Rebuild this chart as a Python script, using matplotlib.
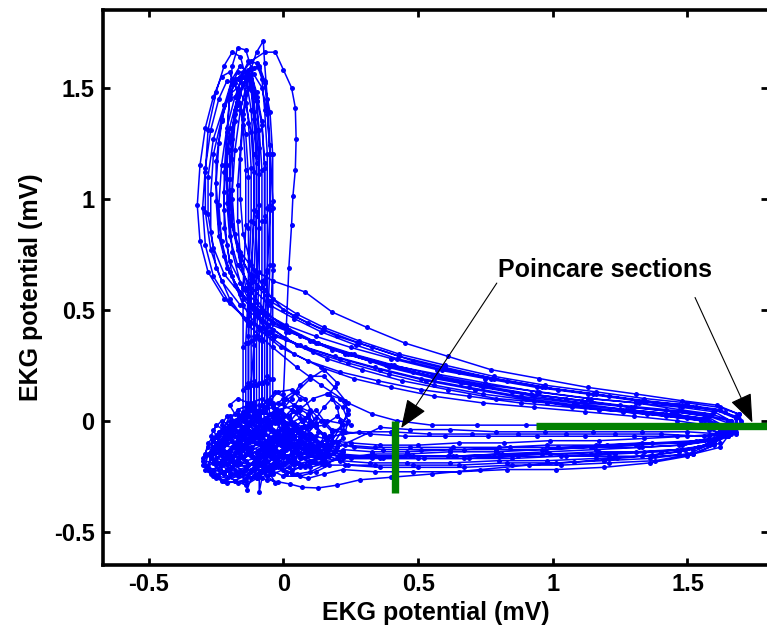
import numpy as np
import matplotlib
matplotlib.use("Agg")
import matplotlib.pyplot as plt

plt.rcParams["font.family"] = ["Liberation Sans", "DejaVu Sans"]
plt.rcParams["font.weight"] = "bold"
plt.rcParams["axes.unicode_minus"] = False

# delay-embedded EKG trajectory, one list of (v(t), v(t+tau)) samples per beat
beat01 = [
    (0.21, -0.16), (0.14, -0.15), (0.08, -0.13), (0.03, -0.1), (-0.02, -0.06), (-0.06, -0.01), (-0.1, 0.03),
    (-0.14, 0.01), (-0.18, -0.04), (-0.21, -0.1), (-0.23, -0.16), (-0.19, -0.21), (-0.13, -0.2), (-0.08, -0.16),
    (-0.05, -0.1), (-0.07, -0.04), (-0.1, 0.0), (-0.12, 0.06),
    (-0.12, 0.16), (-0.11, 0.34), (-0.1, 0.6), (-0.09, 0.87), (-0.09, 1.11), (-0.1, 1.31), (-0.11, 1.46),
    (-0.13, 1.56), (-0.16, 1.6), (-0.19, 1.54), (-0.22, 1.42), (-0.24, 1.25), (-0.25, 1.07), (-0.24, 0.89),
    (-0.22, 0.74), (-0.18, 0.61), (-0.12, 0.52),
    (-0.04, 0.44), (0.06, 0.38), (0.18, 0.32), (0.32, 0.27), (0.48, 0.22), (0.66, 0.17), (0.85, 0.13),
    (1.05, 0.1), (1.25, 0.07), (1.42, 0.05), (1.56, 0.03), (1.65, 0.0), (1.67, -0.05), (1.6, -0.08),
    (1.47, -0.1), (1.31, -0.11), (1.14, -0.12), (0.96, -0.13), (0.79, -0.14), (0.62, -0.14), (0.46, -0.15),
    (0.33, -0.15),
]
beat02 = [
    (0.22, -0.14), (0.15, -0.11), (0.1, -0.06), (0.07, 0.0), (0.03, 0.05), (-0.02, 0.08), (-0.07, 0.06),
    (-0.11, 0.02), (-0.15, -0.03), (-0.19, -0.07), (-0.24, -0.12), (-0.27, -0.17), (-0.24, -0.22),
    (-0.18, -0.24), (-0.12, -0.22), (-0.07, -0.18), (-0.03, -0.12), (0.0, -0.06), (-0.02, -0.01),
    (-0.05, 0.03), (-0.06, 0.09),
    (-0.06, 0.2), (-0.06, 0.42), (-0.05, 0.7), (-0.05, 0.97), (-0.05, 1.2), (-0.06, 1.38), (-0.08, 1.5),
    (-0.11, 1.56), (-0.14, 1.54), (-0.17, 1.46), (-0.2, 1.32), (-0.21, 1.15), (-0.21, 0.98), (-0.2, 0.83),
    (-0.17, 0.7), (-0.12, 0.6), (-0.05, 0.52),
    (0.04, 0.46), (0.14, 0.4), (0.27, 0.34), (0.42, 0.28), (0.59, 0.23), (0.77, 0.19), (0.96, 0.15),
    (1.15, 0.12), (1.33, 0.09), (1.49, 0.07), (1.6, 0.05), (1.68, 0.02), (1.69, -0.03), (1.62, -0.06),
    (1.5, -0.07), (1.34, -0.08), (1.17, -0.09), (0.99, -0.09), (0.82, -0.1), (0.65, -0.1), (0.5, -0.11),
    (0.36, -0.11), (0.25, -0.1),
]
beat03 = [
    (0.16, -0.08), (0.12, -0.03), (0.09, 0.03), (0.04, 0.07), (-0.01, 0.05), (-0.04, 0.0), (-0.08, -0.05),
    (-0.12, -0.09), (-0.17, -0.12), (-0.22, -0.14), (-0.26, -0.19), (-0.3, -0.18), (-0.27, -0.14),
    (-0.22, -0.09), (-0.18, -0.04), (-0.15, 0.0), (-0.13, 0.06),
    (-0.13, 0.17), (-0.13, 0.38), (-0.12, 0.66), (-0.11, 0.95), (-0.11, 1.2), (-0.12, 1.4), (-0.14, 1.55),
    (-0.16, 1.64), (-0.19, 1.66), (-0.22, 1.6), (-0.25, 1.48), (-0.28, 1.31), (-0.29, 1.12), (-0.29, 0.94),
    (-0.27, 0.77), (-0.23, 0.63), (-0.16, 0.52), (-0.08, 0.45),
    (0.02, 0.4), (0.13, 0.35), (0.26, 0.3), (0.41, 0.25), (0.58, 0.2), (0.76, 0.16), (0.95, 0.13),
    (1.14, 0.1), (1.32, 0.08), (1.48, 0.06), (1.6, 0.04), (1.66, 0.0), (1.64, -0.07),
    (1.54, -0.12), (1.4, -0.14), (1.23, -0.15), (1.05, -0.16), (0.87, -0.16), (0.69, -0.17), (0.52, -0.17),
    (0.37, -0.17), (0.25, -0.17),
]
beat04 = [
    (0.13, -0.16), (0.06, -0.17), (0.0, -0.15), (-0.05, -0.12), (-0.1, -0.1), (-0.15, -0.11), (-0.2, -0.14),
    (-0.23, -0.19), (-0.2, -0.24), (-0.14, -0.26), (-0.135, -0.31), (-0.12, -0.26), (-0.08, -0.22),
    (-0.04, -0.17), (-0.02, -0.1), (-0.04, -0.04), (-0.07, 0.01), (-0.08, 0.07),
    (-0.08, 0.17), (-0.08, 0.36), (-0.07, 0.62), (-0.07, 0.9), (-0.07, 1.14), (-0.08, 1.33), (-0.1, 1.46),
    (-0.12, 1.54), (-0.15, 1.52), (-0.17, 1.42), (-0.19, 1.27), (-0.2, 1.09), (-0.2, 0.92), (-0.19, 0.76),
    (-0.16, 0.62), (-0.11, 0.5), (-0.04, 0.41),
    (0.05, 0.34), (0.16, 0.28), (0.29, 0.23), (0.44, 0.18), (0.61, 0.14), (0.79, 0.1), (0.98, 0.08),
    (1.17, 0.05), (1.35, 0.03), (1.5, 0.01), (1.6, -0.01), (1.64, -0.05), (1.58, -0.07),
    (1.46, -0.07), (1.3, -0.07), (1.12, -0.07), (0.94, -0.07), (0.76, -0.07), (0.6, -0.07), (0.45, -0.07),
    (0.32, -0.06), (0.22, -0.05),
]
beat05 = [
    (0.24, 0.03), (0.23, 0.09), (0.19, 0.15), (0.15, 0.2), (0.1, 0.2), (0.06, 0.16), (0.03, 0.1),
    (-0.01, 0.04), (-0.05, -0.02), (-0.09, -0.07), (-0.14, -0.1), (-0.18, -0.14), (-0.16, -0.19),
    (-0.1, -0.2), (-0.05, -0.16), (-0.01, -0.1), (0.01, -0.04), (-0.02, 0.02), (-0.04, 0.08),
    (-0.04, 0.19), (-0.04, 0.41), (-0.04, 0.7), (-0.04, 0.99), (-0.05, 1.24), (-0.06, 1.45), (-0.07, 1.61),
    (-0.075, 1.71), (-0.1, 1.66), (-0.13, 1.55), (-0.16, 1.4), (-0.18, 1.22), (-0.19, 1.04), (-0.19, 0.88),
    (-0.16, 0.76), (-0.11, 0.68), (-0.04, 0.63),
    (0.08, 0.58), (0.18, 0.49), (0.31, 0.42), (0.45, 0.35), (0.61, 0.29), (0.77, 0.23), (0.95, 0.19),
    (1.13, 0.15), (1.31, 0.12), (1.48, 0.09), (1.61, 0.07), (1.69, 0.03), (1.7, -0.03), (1.63, -0.06),
    (1.5, -0.05), (1.33, -0.05), (1.15, -0.05), (0.97, -0.05), (0.79, -0.05), (0.62, -0.04), (0.47, -0.04),
    (0.36, -0.03),
]
beat06 = [
    (0.25, -0.02), (0.16, 0.0), (0.09, -0.02), (0.03, -0.05), (-0.03, -0.09), (-0.09, -0.13), (-0.15, -0.17),
    (-0.21, -0.2), (-0.26, -0.22), (-0.29, -0.2), (-0.28, -0.15), (-0.25, -0.1), (-0.21, -0.06),
    (-0.17, -0.02), (-0.15, 0.04),
    (-0.15, 0.14), (-0.15, 0.33), (-0.15, 0.6), (-0.14, 0.88), (-0.14, 1.13), (-0.15, 1.33), (-0.17, 1.48),
    (-0.2, 1.57), (-0.23, 1.55), (-0.26, 1.46), (-0.29, 1.32), (-0.31, 1.15), (-0.32, 0.97), (-0.31, 0.81),
    (-0.28, 0.67), (-0.22, 0.55), (-0.14, 0.46),
    (-0.05, 0.4), (0.06, 0.34), (0.19, 0.29), (0.34, 0.24), (0.51, 0.19), (0.69, 0.15), (0.88, 0.11),
    (1.08, 0.08), (1.27, 0.05), (1.44, 0.03), (1.57, 0.01), (1.63, -0.03), (1.62, -0.1),
    (1.52, -0.15), (1.38, -0.18), (1.21, -0.19), (1.03, -0.2), (0.85, -0.2), (0.67, -0.21), (0.5, -0.21),
    (0.36, -0.21), (0.24, -0.2),
]
beat07 = [
    (0.14, -0.19), (0.07, -0.2), (0.01, -0.19), (-0.05, -0.2), (-0.09, -0.25), (-0.09, -0.32), (-0.08, -0.26),
    (-0.04, -0.21), (0.0, -0.15), (0.02, -0.08), (0.0, -0.02), (-0.04, 0.03), (-0.09, 0.03), (-0.13, -0.01),
    (-0.16, -0.06), (-0.14, -0.1), (-0.1, -0.06), (-0.09, 0.0), (-0.09, 0.07),
    (-0.09, 0.17), (-0.09, 0.37), (-0.08, 0.63), (-0.08, 0.9), (-0.08, 1.13), (-0.09, 1.31), (-0.1, 1.44),
    (-0.12, 1.51), (-0.14, 1.48), (-0.15, 1.38), (-0.16, 1.23), (-0.17, 1.06), (-0.17, 0.9), (-0.16, 0.74),
    (-0.14, 0.6), (-0.1, 0.47), (-0.04, 0.37),
    (0.04, 0.3), (0.14, 0.24), (0.26, 0.19), (0.4, 0.15), (0.56, 0.11), (0.74, 0.08), (0.93, 0.06),
    (1.12, 0.04), (1.3, 0.02), (1.46, 0.0), (1.57, -0.02), (1.62, -0.06), (1.58, -0.11),
    (1.47, -0.14), (1.33, -0.16), (1.16, -0.17), (0.98, -0.18), (0.8, -0.18), (0.62, -0.19), (0.46, -0.19),
    (0.32, -0.19), (0.21, -0.18),
]
beat08 = [
    (0.15, -0.15), (0.1, -0.1), (0.06, -0.05), (0.01, -0.03), (-0.04, -0.05), (-0.09, -0.09), (-0.13, -0.14),
    (-0.17, -0.19), (-0.22, -0.23), (-0.25, -0.26), (-0.21, -0.28), (-0.15, -0.27), (-0.09, -0.24),
    (-0.04, -0.2), (0.0, -0.13), (0.02, -0.06), (0.0, 0.02),
    (0.0, 0.12), (0.01, 0.4), (0.02, 0.69), (0.03, 0.88), (0.035, 1.01), (0.044, 1.13), (0.047, 1.27),
    (0.044, 1.41), (0.03, 1.5), (0.0, 1.58), (-0.03, 1.66), (-0.07, 1.66), (-0.12, 1.62), (-0.17, 1.54),
    (-0.22, 1.42), (-0.26, 1.27), (-0.28, 1.1), (-0.28, 0.93), (-0.26, 0.78), (-0.22, 0.66), (-0.16, 0.57),
    (-0.08, 0.49),
    (0.01, 0.43), (0.12, 0.38), (0.25, 0.33), (0.4, 0.28), (0.57, 0.23), (0.75, 0.19), (0.94, 0.15),
    (1.13, 0.12), (1.31, 0.09), (1.47, 0.07), (1.6, 0.05), (1.68, 0.01), (1.67, -0.05), (1.6, -0.09),
    (1.48, -0.11), (1.33, -0.12), (1.16, -0.13), (0.98, -0.14), (0.8, -0.15), (0.63, -0.16), (0.47, -0.16),
    (0.33, -0.17), (0.22, -0.17),
]
beat09 = [
    (0.12, -0.16), (0.05, -0.12), (0.0, -0.07), (-0.05, -0.03), (-0.11, -0.02), (-0.17, -0.05), (-0.22, -0.08),
    (-0.26, -0.12), (-0.27, -0.17), (-0.23, -0.2), (-0.17, -0.18), (-0.12, -0.13), (-0.08, -0.08),
    (-0.06, -0.02), (-0.09, 0.02), (-0.11, 0.08),
    (-0.11, 0.18), (-0.11, 0.38), (-0.1, 0.65), (-0.1, 0.92), (-0.1, 1.16), (-0.11, 1.36), (-0.12, 1.49),
    (-0.14, 1.57), (-0.17, 1.57), (-0.2, 1.49), (-0.23, 1.35), (-0.25, 1.17), (-0.25, 0.99), (-0.24, 0.83),
    (-0.21, 0.69), (-0.16, 0.58), (-0.09, 0.49),
    (0.0, 0.42), (0.1, 0.36), (0.23, 0.3), (0.38, 0.25), (0.55, 0.2), (0.73, 0.16), (0.92, 0.12),
    (1.11, 0.09), (1.29, 0.06), (1.45, 0.04), (1.57, 0.02), (1.63, -0.02), (1.6, -0.09),
    (1.52, -0.13), (1.37, -0.155), (1.24, -0.17), (1.08, -0.186), (0.91, -0.2), (0.73, -0.22), (0.55, -0.24),
    (0.4, -0.255), (0.285, -0.266), (0.2, -0.29), (0.128, -0.303), (0.07, -0.3), (0.023, -0.285),
    (-0.02, -0.275), (-0.06, -0.266),
]
beat10 = [
    (-0.1, -0.24), (-0.14, -0.21), (-0.19, -0.17), (-0.24, -0.14), (-0.29, -0.16), (-0.3, -0.2), (-0.27, -0.24),
    (-0.21, -0.26), (-0.15, -0.23), (-0.1, -0.18), (-0.06, -0.12), (-0.03, -0.06), (-0.01, 0.0), (0.03, 0.05),
    (0.06, 0.1), (0.03, 0.14), (-0.02, 0.13), (-0.05, 0.09), (-0.07, 0.06),
    (-0.07, 0.18), (-0.07, 0.4), (-0.06, 0.68), (-0.06, 0.96), (-0.06, 1.2), (-0.07, 1.4), (-0.08, 1.54),
    (-0.1, 1.61), (-0.13, 1.62), (-0.16, 1.54), (-0.18, 1.4), (-0.2, 1.22), (-0.2, 1.04), (-0.19, 0.88),
    (-0.16, 0.74), (-0.11, 0.63), (-0.04, 0.55),
    (0.05, 0.48), (0.15, 0.42), (0.28, 0.36), (0.43, 0.3), (0.6, 0.25), (0.78, 0.2), (0.97, 0.16),
    (1.16, 0.13), (1.34, 0.1), (1.5, 0.08), (1.62, 0.06), (1.69, 0.03), (1.71, -0.02), (1.65, -0.07),
    (1.53, -0.09), (1.37, -0.1), (1.2, -0.11), (1.02, -0.12), (0.84, -0.12), (0.67, -0.13), (0.51, -0.13),
    (0.37, -0.13), (0.26, -0.12),
]
beat11 = [
    (0.18, -0.1), (0.13, -0.05), (0.1, 0.0), (0.05, 0.04), (0.0, 0.02), (-0.05, -0.03), (-0.1, -0.07),
    (-0.15, -0.08), (-0.2, -0.06), (-0.23, -0.02), (-0.21, 0.02), (-0.17, 0.03), (-0.13, 0.02), (-0.12, 0.07),
    (-0.12, 0.16), (-0.12, 0.36), (-0.12, 0.62), (-0.11, 0.89), (-0.11, 1.12), (-0.12, 1.3), (-0.14, 1.43),
    (-0.17, 1.5), (-0.2, 1.47), (-0.23, 1.36), (-0.26, 1.2), (-0.27, 1.02), (-0.27, 0.85), (-0.25, 0.69),
    (-0.2, 0.55), (-0.13, 0.43), (-0.04, 0.33),
    (0.05, 0.24), (0.14, 0.16), (0.24, 0.08), (0.33, 0.03), (0.42, 0.0), (0.55, -0.02), (0.72, -0.02),
    (0.9, -0.02), (1.09, -0.02), (1.28, -0.02), (1.45, -0.03), (1.58, -0.04), (1.65, -0.07), (1.62, -0.12),
    (1.52, -0.15), (1.38, -0.16), (1.21, -0.16), (1.03, -0.16), (0.85, -0.17), (0.67, -0.17), (0.5, -0.17),
    (0.36, -0.17), (0.24, -0.16),
]
beat12 = [
    (0.14, -0.14), (0.08, -0.1), (0.02, -0.08), (-0.04, -0.1), (-0.1, -0.14), (-0.16, -0.16), (-0.22, -0.18),
    (-0.26, -0.22), (-0.23, -0.27), (-0.17, -0.28), (-0.11, -0.25), (-0.05, -0.2), (0.0, -0.14), (0.03, -0.07),
    (0.01, -0.01), (-0.03, 0.03), (-0.05, 0.08),
    (-0.05, 0.19), (-0.05, 0.4), (-0.04, 0.68), (-0.04, 0.96), (-0.04, 1.2), (-0.05, 1.39), (-0.07, 1.52),
    (-0.09, 1.59), (-0.12, 1.59), (-0.15, 1.51), (-0.18, 1.38), (-0.21, 1.21), (-0.22, 1.03), (-0.22, 0.87),
    (-0.2, 0.72), (-0.15, 0.6), (-0.08, 0.5),
    (0.01, 0.42), (0.11, 0.36), (0.24, 0.3), (0.39, 0.24), (0.56, 0.19), (0.74, 0.15), (0.93, 0.11),
    (1.12, 0.08), (1.3, 0.06), (1.46, 0.04), (1.58, 0.02), (1.65, -0.01), (1.65, -0.07), (1.58, -0.11),
    (1.46, -0.13), (1.31, -0.14), (1.14, -0.15), (0.96, -0.15), (0.78, -0.16), (0.61, -0.16), (0.45, -0.16),
    (0.32, -0.16), (0.21, -0.15),
]
beat13 = [
    (0.22, -0.08), (0.21, 0.0), (0.2, 0.06), (0.17, 0.12), (0.2, 0.17), (0.15, 0.23), (0.1, 0.19), (0.05, 0.13),
    (0.0, 0.08), (-0.05, 0.03), (-0.1, -0.03), (-0.15, -0.08), (-0.2, -0.13), (-0.25, -0.17), (-0.28, -0.21),
    (-0.25, -0.25), (-0.2, -0.22), (-0.16, -0.15), (-0.14, -0.08), (-0.14, 0.0), (-0.14, 0.06),
    (-0.14, 0.15), (-0.14, 0.35), (-0.13, 0.6), (-0.13, 0.87), (-0.13, 1.1), (-0.14, 1.29), (-0.16, 1.43),
    (-0.18, 1.52), (-0.21, 1.53), (-0.24, 1.45), (-0.27, 1.31), (-0.29, 1.14), (-0.3, 0.96), (-0.29, 0.79),
    (-0.26, 0.65), (-0.2, 0.53), (-0.12, 0.44),
    (-0.03, 0.38), (0.08, 0.33), (0.21, 0.28), (0.36, 0.23), (0.53, 0.18), (0.71, 0.14), (0.9, 0.1),
    (1.09, 0.07), (1.28, 0.05), (1.44, 0.03), (1.56, 0.01), (1.62, -0.03), (1.6, -0.1),
    (1.5, -0.15), (1.36, -0.17), (1.19, -0.18), (1.01, -0.19), (0.83, -0.19), (0.65, -0.2), (0.48, -0.2),
    (0.34, -0.2), (0.23, -0.2),
]
beat14 = [
    (0.15, -0.18), (0.09, -0.16), (0.04, -0.12), (0.0, -0.06), (-0.03, 0.0), (-0.07, 0.04), (-0.12, 0.05),
    (-0.16, 0.02), (-0.2, -0.03), (-0.23, -0.09), (-0.26, -0.14), (-0.22, -0.17), (-0.16, -0.14),
    (-0.12, -0.09), (-0.1, -0.03), (-0.1, 0.04),
    (-0.1, 0.16), (-0.1, 0.38), (-0.09, 0.67), (-0.09, 0.97), (-0.09, 1.23), (-0.1, 1.44), (-0.12, 1.59),
    (-0.14, 1.67), (-0.17, 1.68), (-0.19, 1.6), (-0.2, 1.46), (-0.21, 1.28), (-0.21, 1.09), (-0.2, 0.92),
    (-0.17, 0.77), (-0.12, 0.64), (-0.05, 0.54),
    (0.04, 0.47), (0.15, 0.41), (0.28, 0.35), (0.43, 0.29), (0.6, 0.24), (0.78, 0.19), (0.97, 0.15),
    (1.16, 0.12), (1.34, 0.09), (1.5, 0.07), (1.62, 0.05), (1.68, 0.01), (1.68, -0.05), (1.61, -0.08),
    (1.49, -0.1), (1.33, -0.1), (1.16, -0.11), (0.98, -0.11), (0.8, -0.12), (0.63, -0.12), (0.47, -0.12),
    (0.34, -0.12), (0.23, -0.11),
]
beat15 = [
    (0.17, -0.07), (0.22, -0.02), (0.24, 0.05), (0.21, 0.1), (0.16, 0.12), (0.11, 0.1), (0.06, 0.05),
    (0.02, -0.01), (-0.03, -0.06), (-0.08, -0.1), (-0.13, -0.12), (-0.18, -0.11), (-0.22, -0.07),
    (-0.2, -0.02), (-0.15, 0.01), (-0.1, 0.02), (-0.08, 0.07),
    (-0.08, 0.17), (-0.08, 0.37), (-0.07, 0.64), (-0.07, 0.92), (-0.07, 1.16), (-0.08, 1.35), (-0.1, 1.48),
    (-0.12, 1.56), (-0.15, 1.55), (-0.18, 1.46), (-0.21, 1.32), (-0.23, 1.15), (-0.24, 0.97), (-0.23, 0.81),
    (-0.2, 0.67), (-0.15, 0.55), (-0.08, 0.45),
    (0.01, 0.37), (0.11, 0.31), (0.24, 0.26), (0.39, 0.21), (0.56, 0.16), (0.74, 0.12), (0.93, 0.09),
    (1.12, 0.06), (1.3, 0.04), (1.46, 0.02), (1.58, 0.0), (1.64, -0.04), (1.6, -0.1),
    (1.49, -0.13), (1.34, -0.14), (1.17, -0.14), (0.99, -0.15), (0.81, -0.15), (0.64, -0.16), (0.48, -0.16),
    (0.34, -0.16), (0.22, -0.16), (0.12, -0.14), (0.04, -0.11), (-0.03, -0.08), (-0.09, -0.06),
]
beat16 = [
    (-0.26, -0.13), (-0.21, -0.1), (-0.16, -0.1), (-0.12, -0.07), (-0.09, -0.08), (-0.13, -0.05),
    (-0.12, 0.01), (-0.11, 0.06),
    (-0.11, 0.16), (-0.11, 0.37), (-0.11, 0.65), (-0.1, 0.94), (-0.1, 1.19), (-0.11, 1.39), (-0.12, 1.52),
    (-0.13, 1.58), (-0.15, 1.57), (-0.17, 1.49), (-0.18, 1.35), (-0.19, 1.18), (-0.19, 1.0), (-0.18, 0.84),
    (-0.16, 0.7), (-0.12, 0.58), (-0.06, 0.48),
    (0.02, 0.41), (0.12, 0.35), (0.25, 0.3), (0.4, 0.25), (0.57, 0.21), (0.75, 0.17), (0.94, 0.13),
    (1.13, 0.1), (1.31, 0.08), (1.47, 0.05), (1.59, 0.03), (1.66, 0.0), (1.66, -0.06), (1.59, -0.09),
    (1.47, -0.11), (1.32, -0.12), (1.15, -0.12), (0.97, -0.13), (0.79, -0.13), (0.62, -0.13), (0.46, -0.14),
    (0.33, -0.14), (0.22, -0.13),
]
beat17 = [
    (0.14, -0.1), (0.08, -0.06), (0.03, -0.02), (-0.02, 0.02), (-0.07, 0.0), (-0.11, -0.04), (-0.14, 0.0),
    (-0.13, 0.06),
    (-0.13, 0.15), (-0.13, 0.35), (-0.13, 0.62), (-0.12, 0.9), (-0.12, 1.14), (-0.13, 1.34), (-0.14, 1.47),
    (-0.16, 1.55), (-0.18, 1.54), (-0.2, 1.45), (-0.21, 1.3), (-0.22, 1.12), (-0.22, 0.95), (-0.21, 0.79),
    (-0.19, 0.65), (-0.15, 0.52), (-0.09, 0.41),
    (-0.01, 0.33), (0.09, 0.27), (0.21, 0.22), (0.35, 0.18), (0.51, 0.14), (0.69, 0.11), (0.88, 0.08),
    (1.07, 0.06), (1.26, 0.04), (1.42, 0.02), (1.55, 0.0), (1.62, -0.04), (1.6, -0.11),
    (1.5, -0.16), (1.36, -0.19), (1.19, -0.21), (1.01, -0.22), (0.83, -0.22), (0.65, -0.23), (0.48, -0.23),
    (0.34, -0.23), (0.22, -0.22),
]
beat18 = [
    (0.12, -0.19), (0.06, -0.15), (0.01, -0.1), (-0.03, -0.05), (-0.06, 0.0), (-0.06, 0.06),
    (-0.06, 0.17), (-0.06, 0.39), (-0.06, 0.67), (-0.05, 0.95), (-0.05, 1.2), (-0.06, 1.4), (-0.07, 1.53),
    (-0.09, 1.6), (-0.11, 1.59), (-0.13, 1.5), (-0.15, 1.36), (-0.16, 1.18), (-0.16, 1.0), (-0.15, 0.84),
    (-0.12, 0.7), (-0.07, 0.59), (0.0, 0.5),
    (0.09, 0.44), (0.2, 0.38), (0.33, 0.33), (0.48, 0.27), (0.65, 0.22), (0.83, 0.18), (1.02, 0.14),
    (1.21, 0.11), (1.38, 0.08), (1.53, 0.06), (1.64, 0.04), (1.7, 0.0), (1.68, -0.06),
    (1.56, -0.07), (1.4, -0.06), (1.23, -0.06), (1.05, -0.06), (0.87, -0.06), (0.7, -0.06), (0.54, -0.06),
    (0.4, -0.05), (0.28, -0.05), (0.18, -0.07),
]

# baseline wander between beats (P/T waves and noise around the isoelectric level)
wander01 = [
    (0.15, -0.18), (0.09, -0.2), (0.03, -0.22), (-0.02, -0.19), (-0.06, -0.14), (-0.1, -0.1), (-0.15, -0.08),
    (-0.19, -0.12), (-0.2, -0.18), (-0.16, -0.22), (-0.11, -0.19), (-0.08, -0.13), (-0.04, -0.08),
    (0.0, -0.04), (0.04, -0.01), (0.07, -0.05), (0.05, -0.1), (0.01, -0.13), (-0.03, -0.16), (-0.07, -0.2),
    (-0.04, -0.24), (0.02, -0.21), (0.08, -0.17), (0.13, -0.14), (0.17, -0.13),
]
wander02 = [
    (0.18, -0.09), (0.12, -0.07), (0.07, -0.03), (0.02, 0.01), (-0.03, 0.04), (-0.08, 0.0), (-0.11, -0.05),
    (-0.14, -0.11), (-0.18, -0.15), (-0.23, -0.18), (-0.27, -0.14), (-0.26, -0.08), (-0.22, -0.04),
    (-0.17, -0.07), (-0.13, -0.14), (-0.1, -0.2), (-0.05, -0.23), (0.0, -0.2), (0.03, -0.15), (0.01, -0.09),
    (-0.03, -0.06), (-0.06, -0.1), (-0.03, -0.14), (0.04, -0.12), (0.1, -0.1), (0.16, -0.09),
]
wander03 = [
    (0.16, -0.13), (0.1, -0.08), (0.06, -0.12), (0.0, -0.17), (-0.05, -0.22), (-0.1, -0.26), (-0.15, -0.24),
    (-0.18, -0.19), (-0.21, -0.14), (-0.24, -0.1), (-0.26, -0.04), (-0.23, 0.0), (-0.19, -0.03),
    (-0.15, -0.06), (-0.1, -0.04), (-0.06, 0.01), (-0.02, 0.05), (0.02, 0.02), (0.05, -0.03), (0.03, -0.08),
    (-0.01, -0.11), (-0.06, -0.12), (-0.1, -0.15), (-0.06, -0.18), (0.01, -0.16), (0.08, -0.14), (0.14, -0.1),
]
wander04 = [
    (0.18, -0.05), (0.14, 0.0), (0.1, 0.05), (0.08, 0.1), (0.04, 0.13), (0.0, 0.1), (-0.04, 0.06),
    (-0.09, 0.04), (-0.13, 0.07), (-0.17, 0.05), (-0.2, 0.0), (-0.24, -0.05), (-0.28, -0.1), (-0.29, -0.15),
    (-0.25, -0.19), (-0.2, -0.17), (-0.15, -0.13), (-0.11, -0.09), (-0.07, -0.06), (-0.02, -0.08),
    (0.02, -0.12), (0.06, -0.16), (0.1, -0.19), (0.14, -0.17),
]
wander05 = [
    (0.2, -0.12), (0.14, -0.1), (0.08, -0.08), (0.03, -0.04), (-0.01, 0.0), (-0.05, 0.0), (-0.08, -0.04),
    (-0.12, -0.06), (-0.16, -0.02), (-0.2, 0.02), (-0.22, -0.03), (-0.2, -0.08), (-0.17, -0.13),
    (-0.14, -0.18), (-0.1, -0.21), (-0.06, -0.25), (-0.03, -0.28), (-0.05, -0.24), (-0.01, -0.2),
    (0.04, -0.17), (0.08, -0.12), (0.06, -0.07), (0.1, -0.03), (0.15, -0.02), (0.2, 0.02),
]
wander06 = [
    (0.2, -0.17), (0.15, -0.2), (0.1, -0.23), (0.05, -0.24), (0.0, -0.22), (-0.04, -0.17), (-0.07, -0.11),
    (-0.11, -0.07), (-0.16, -0.05), (-0.21, -0.08), (-0.24, -0.13), (-0.22, -0.18), (-0.18, -0.22),
    (-0.14, -0.27), (-0.12, -0.22), (-0.09, -0.17), (-0.04, -0.13), (0.0, -0.08), (0.04, -0.03),
    (0.08, 0.01), (0.12, 0.05), (0.15, 0.0), (0.18, -0.04), (0.22, -0.04),
]
wander07 = [
    (0.17, -0.16), (0.12, -0.13), (0.06, -0.1), (0.01, -0.12), (-0.04, -0.15), (-0.09, -0.17), (-0.14, -0.15),
    (-0.18, -0.1), (-0.21, -0.05), (-0.25, -0.02), (-0.27, -0.07), (-0.26, -0.13), (-0.24, -0.19),
    (-0.22, -0.24), (-0.18, -0.27), (-0.13, -0.24), (-0.08, -0.19), (-0.05, -0.13), (-0.01, -0.07),
    (0.03, -0.05), (0.07, -0.09), (0.11, -0.14), (0.15, -0.17), (0.16, -0.15),
]
wander08 = [
    (0.16, -0.14), (0.11, -0.11), (0.07, -0.07), (0.04, -0.02), (0.0, 0.03), (-0.04, 0.07), (-0.08, 0.1),
    (-0.12, 0.08), (-0.15, 0.04), (-0.18, -0.01), (-0.21, -0.06), (-0.23, -0.12), (-0.2, -0.16),
    (-0.15, -0.17), (-0.1, -0.14), (-0.06, -0.09), (-0.02, -0.05), (0.01, -0.09), (0.0, -0.15),
    (-0.03, -0.2), (0.01, -0.24), (0.06, -0.21), (0.1, -0.18), (0.15, -0.16),
]
wander09 = [
    (-0.1, -0.26), (-0.14, -0.29), (-0.18, -0.27), (-0.22, -0.24), (-0.24, -0.19), (-0.21, -0.15),
    (-0.17, -0.1), (-0.13, -0.06), (-0.08, -0.03), (-0.03, -0.01), (0.02, 0.02), (0.06, 0.06), (0.1, 0.04),
    (0.12, -0.01), (0.09, -0.06), (0.05, -0.1), (0.0, -0.13), (-0.05, -0.16), (-0.09, -0.2), (-0.11, -0.25),
]
wander10 = [
    (0.2, -0.1), (0.15, -0.06), (0.11, -0.02), (0.06, 0.01), (0.01, -0.02), (-0.03, -0.07), (-0.08, -0.11),
    (-0.13, -0.14), (-0.17, -0.18), (-0.21, -0.22), (-0.25, -0.25), (-0.28, -0.22), (-0.27, -0.17),
    (-0.23, -0.13), (-0.19, -0.09), (-0.15, -0.04), (-0.11, 0.0), (-0.07, 0.04), (-0.03, 0.02), (0.0, -0.03),
    (0.04, -0.08), (0.09, -0.11), (0.14, -0.11), (0.18, -0.1),
]
wander11 = [
    (0.16, -0.19), (0.1, -0.21), (0.04, -0.18), (-0.01, -0.14), (-0.06, -0.1), (-0.1, -0.05), (-0.14, -0.01),
    (-0.18, 0.03), (-0.2, 0.07), (-0.17, 0.1), (-0.13, 0.08), (-0.1, 0.03), (-0.07, -0.02), (-0.03, -0.06),
    (0.01, -0.1), (0.05, -0.13), (0.03, -0.17), (-0.02, -0.2), (-0.07, -0.22), (-0.12, -0.23), (-0.08, -0.2),
    (-0.02, -0.16), (0.05, -0.15), (0.1, -0.15),
]
wander12 = [
    (0.15, -0.12), (0.1, -0.06), (0.07, 0.0), (0.05, 0.06), (0.01, 0.1), (-0.03, 0.13), (-0.06, 0.09),
    (-0.09, 0.05), (-0.14, 0.03), (-0.19, 0.0), (-0.23, -0.05), (-0.25, -0.11), (-0.27, -0.17),
    (-0.29, -0.22), (-0.26, -0.25), (-0.21, -0.22), (-0.16, -0.19), (-0.11, -0.17), (-0.06, -0.14),
    (-0.01, -0.11), (0.04, -0.1), (0.09, -0.12), (0.13, -0.14),
]
wander13 = [
    (0.17, -0.2), (0.12, -0.23), (0.06, -0.25), (0.0, -0.25), (-0.05, -0.22), (-0.09, -0.18), (-0.13, -0.13),
    (-0.17, -0.09), (-0.2, -0.04), (-0.17, 0.0), (-0.13, 0.03), (-0.09, 0.0), (-0.05, -0.04), (-0.01, -0.08),
    (0.04, -0.07), (0.08, -0.03), (0.12, 0.01), (0.15, 0.06), (0.18, 0.1), (0.22, 0.06), (0.24, 0.0),
    (0.23, -0.05), (0.2, -0.12), (0.17, -0.16),
]
wander14 = [
    (0.17, -0.12), (0.12, -0.09), (0.06, -0.06), (0.01, -0.03), (-0.03, 0.01), (-0.07, -0.03), (-0.11, -0.08),
    (-0.15, -0.12), (-0.19, -0.16), (-0.23, -0.2), (-0.26, -0.24), (-0.22, -0.27), (-0.17, -0.25),
    (-0.13, -0.2), (-0.08, -0.16), (-0.04, -0.12), (0.0, -0.09), (0.05, -0.11), (0.09, -0.14), (0.13, -0.11),
    (0.16, -0.08),
]
wander15 = [
    (-0.13, -0.04), (-0.17, -0.08), (-0.2, -0.13), (-0.22, -0.19), (-0.19, -0.24), (-0.14, -0.22),
    (-0.1, -0.17), (-0.06, -0.12), (-0.02, -0.14), (0.02, -0.18), (0.06, -0.2), (0.03, -0.14), (-0.01, -0.07),
    (-0.05, -0.02), (-0.09, 0.02), (-0.13, 0.05), (-0.16, 0.01), (-0.19, -0.04), (-0.24, -0.07),
    (-0.28, -0.12), (-0.3, -0.17),
]
wander16 = [
    (0.16, -0.16), (0.1, -0.18), (0.04, -0.2), (-0.02, -0.18), (-0.07, -0.14), (-0.12, -0.12), (-0.17, -0.14),
    (-0.21, -0.17), (-0.25, -0.2), (-0.27, -0.16), (-0.24, -0.11), (-0.2, -0.08), (-0.16, -0.04),
    (-0.12, -0.01), (-0.08, -0.05), (-0.04, -0.09), (0.0, -0.12), (0.04, -0.08), (0.07, -0.03), (0.09, 0.02),
    (0.12, -0.02), (0.15, -0.07),
]
wander17 = [
    (0.15, -0.24), (0.09, -0.26), (0.03, -0.24), (-0.02, -0.21), (-0.07, -0.18), (-0.12, -0.16),
    (-0.17, -0.13), (-0.22, -0.11), (-0.26, -0.09), (-0.24, -0.05), (-0.19, -0.02), (-0.14, -0.03),
    (-0.09, -0.06), (-0.05, -0.1), (-0.01, -0.15), (0.03, -0.19), (0.08, -0.21), (0.12, -0.19),
]

segments = [
    beat01, wander01, beat02, wander02, beat03, wander03, beat04, wander04,
    beat05, wander05, beat06, wander06, beat07, wander07, beat08, wander08,
    beat09, wander09, beat10, wander10, beat11, wander11, beat12, wander12,
    beat13, wander13, beat14, wander14, beat15, wander15, beat16, wander16,
    beat17, wander17, beat18,
]

# Poincare section lines
section_v_x = [0.415, 0.415]
section_v_y = [0.0, -0.326]
section_h_x = [0.937, 1.8]
section_h_y = [-0.0225, -0.0225]

label_xy = (1.192, 0.649)
arrow_tails = [(0.792, 0.620), (1.528, 0.555)]
arrow_heads = [(0.437, -0.033), (1.741, -0.008)]

xticks = [-0.5, 0, 0.5, 1, 1.5]
yticks = [-0.5, 0, 0.5, 1, 1.5]
tick_text = ["-0.5", "0", "0.5", "1", "1.5"]

traj = np.array([pt for seg in segments for pt in seg])

fig = plt.figure(figsize=(7.67, 6.33), dpi=100)
ax = fig.add_axes([0.1343, 0.1074, 0.8674, 0.8768])

ax.plot(traj[:, 0], traj[:, 1], color="#0000ff", lw=1.1,
        marker="o", ms=3.6, mew=0, zorder=2)

ax.plot(section_v_x, section_v_y, color="#008000", lw=5.3,
        solid_capstyle="butt", zorder=3)
ax.plot(section_h_x, section_h_y, color="#008000", lw=5.3,
        solid_capstyle="butt", zorder=3)

ax.text(label_xy[0], label_xy[1], "Poincare sections", ha="center", va="baseline",
        fontsize=18, fontweight="bold", zorder=5)
for tail, head in zip(arrow_tails, arrow_heads):
    ax.annotate("", xy=head, xytext=tail,
                arrowprops=dict(arrowstyle="-|>,head_length=0.9,head_width=0.35",
                                color="black", lw=0.8, shrinkA=0, shrinkB=0,
                                mutation_scale=20),
                zorder=5)

ax.set_xlim(-0.67, 1.8)
ax.set_ylim(-0.65, 1.85)
ax.set_xticks(xticks)
ax.set_xticklabels(tick_text)
ax.set_yticks(yticks)
ax.set_yticklabels(tick_text)

for sp in ax.spines.values():
    sp.set_linewidth(2.6)
ax.tick_params(direction="in", top=True, right=True, length=5, width=2,
               labelsize=17, pad=6)
for lab in ax.get_xticklabels() + ax.get_yticklabels():
    lab.set_fontweight("bold")

ax.set_xlabel("EKG potential (mV)", fontsize=18, fontweight="bold", labelpad=3)
ax.set_ylabel("EKG potential (mV)", fontsize=18, fontweight="bold", labelpad=8)

fig.savefig("out.png", dpi=100)
